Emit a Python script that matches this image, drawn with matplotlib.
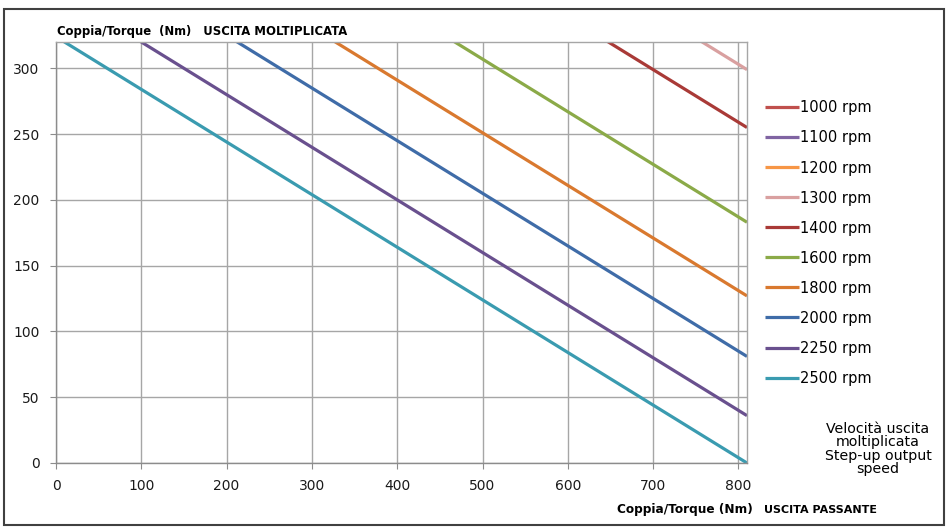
import matplotlib
matplotlib.use("Agg")
import matplotlib.pyplot as plt
from matplotlib.patches import Rectangle

# Data: input torque (x) and step-up output torque (y) per output speed
x_in = [0, 810]
speeds = ["1000 rpm", "1100 rpm", "1200 rpm", "1300 rpm", "1400 rpm",
          "1600 rpm", "1800 rpm", "2000 rpm", "2250 rpm", "2500 rpm"]
t_1000 = [810, 486]
t_1100 = [736, 412]
t_1200 = [675, 351]
t_1300 = [623, 299]
t_1400 = [579, 255]
t_1600 = [507, 183]
t_1800 = [451, 127]
t_2000 = [405, 81]
t_2250 = [360, 36]
t_2500 = [324, 0]
series = [t_1000, t_1100, t_1200, t_1300, t_1400, t_1600, t_1800, t_2000, t_2250, t_2500]
colors = ["#C0504D", "#8064A2", "#F79646", "#D9A0A0", "#A93A37",
          "#8BAA48", "#D9792F", "#3F6CA8", "#69508E", "#3A9BB0"]
xticks = [0, 100, 200, 300, 400, 500, 600, 700, 800]
yticks = [0, 50, 100, 150, 200, 250, 300]

plt.rcParams['font.family'] = ['DejaVu Sans']
fig = plt.figure(figsize=(9.47, 5.28), dpi=100)
fig.patch.set_facecolor("white")
fig.add_artist(Rectangle((4/947, 3/528), 940/947, 516/528, transform=fig.transFigure,
                         fill=False, edgecolor="#404040", linewidth=1.5))

ax = fig.add_axes([56/947, 65/528, 691/947, 421/528])
for s, c, lab in zip(series, colors, speeds):
    ax.plot(x_in, s, color=c, linewidth=2.3, label=lab, solid_capstyle="butt")

ax.set_xlim(0, 810)
ax.set_ylim(0, 320)
ax.set_xticks(xticks)
ax.set_yticks(yticks)
ax.grid(True, color="#A6A6A6", linewidth=1)
ax.set_axisbelow(True)
for sp in ax.spines.values():
    sp.set_color("#A6A6A6")
    sp.set_linewidth(1)
ax.spines["left"].set_color("#8C8C8C")
ax.spines["bottom"].set_color("#8C8C8C")
ax.tick_params(axis="both", colors="#8C8C8C", labelcolor="#1a1a1a", labelsize=10, length=4.3)
ax.tick_params(axis="x", pad=7)
ax.tick_params(axis="y", pad=7.5)

leg = ax.legend(loc="upper left", bbox_to_anchor=(1.018, 0.875), frameon=False,
                fontsize=10.5, handlelength=2.3, handletextpad=0.1,
                labelspacing=1.03, borderaxespad=0)

fig.text(57/947, 1 - 31/528, "Coppia/Torque  (Nm)   USCITA MOLTIPLICATA",
         fontsize=8.4, fontweight="bold", va="center", ha="left")
fig.text(753/947, 1 - 509/528, "Coppia/Torque (Nm)", fontsize=8.7,
         fontweight="bold", va="center", ha="right")
fig.text(764/947, 1 - 510/528, "USCITA PASSANTE", fontsize=8.0,
         fontweight="bold", va="center", ha="left")
fig.text(878/947, 1 - 449/528, "Velocità uscita\nmoltiplicata\nStep-up output\nspeed",
         fontsize=10.2, va="center", ha="center", linespacing=0.95)

fig.savefig("out.png", dpi=100)
